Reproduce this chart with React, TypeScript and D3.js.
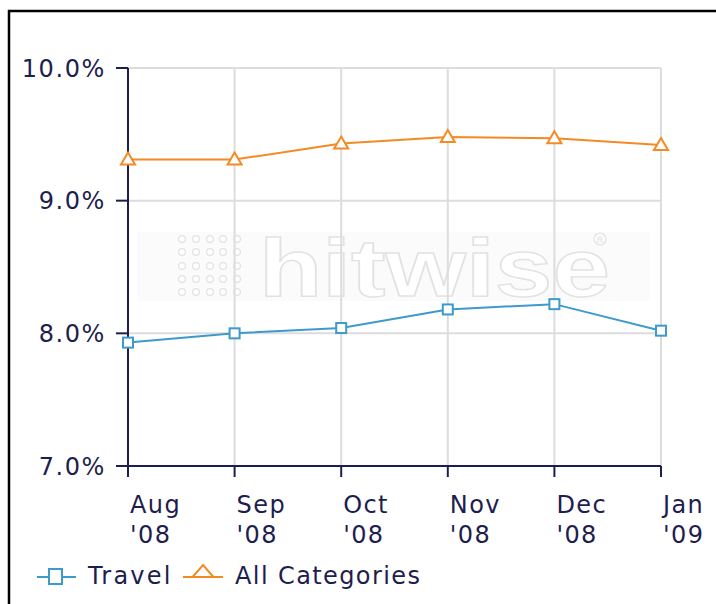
import React from "react";
import * as d3 from "d3";

// values (percent of visits)
const months = ["Aug", "Sep", "Oct", "Nov", "Dec", "Jan"];
const years = ["'08", "'08", "'08", "'08", "'08", "'09"];
const travel = [7.93, 8.0, 8.04, 8.18, 8.22, 8.02];
const allCategories = [9.31, 9.31, 9.43, 9.48, 9.47, 9.42];
const yTicks = [7, 8, 9, 10];

const W = 716,
  H = 604;
const margin = { top: 68, right: 55, bottom: 138, left: 128 };
const AXIS = "#1e1e4e";
const GRID = "#dddddd";
const BLUE = "#3d9bcc";
const ORANGE = "#f58a25";
const FONT = "'DejaVu Sans', Verdana, sans-serif";

export default function App() {
  const x = d3
    .scalePoint<string>()
    .domain(months)
    .range([margin.left, W - margin.right]);
  const y = d3
    .scaleLinear()
    .domain([7, 10])
    .range([H - margin.bottom, margin.top]);

  const line = d3
    .line<number>()
    .x((_, i) => x(months[i]) as number)
    .y((d) => y(d));

  const x0 = margin.left,
    x1 = W - margin.right;
  const y0 = y(7),
    y1 = y(10);

  const tri = (cx: number, cy: number, w: number, h: number) =>
    `M${cx},${cy - h / 2}L${cx + w / 2},${cy + h / 2}L${cx - w / 2},${cy + h / 2}Z`;

  // watermark dot grid
  const dotCols = [182, 196, 210, 223, 237];
  const dotRows = [239, 252, 266, 279, 292];

  return (
    <svg
      width={W}
      height={H}
      style={{ position: "absolute", left: 0, top: 0, background: "#fff" }}
      fontFamily={FONT}
    >
      <rect x={9} y={11} width={W} height={H} fill="#fff" stroke="#000" strokeWidth={2.5} />

      {/* watermark */}
      <g>
        <rect x={137} y={232} width={513} height={69} fill="#fbfbfb" />
        {dotRows.map((cy) =>
          dotCols.map((cx) => (
            <circle key={cx + "-" + cy} cx={cx} cy={cy} r={3.4} fill="#fff" stroke="#e2e2e2" strokeWidth={1.2} />
          ))
        )}
        <text
          x={259}
          y={296}
          fontFamily="'Liberation Sans', Arial, sans-serif"
          fontWeight="bold"
          fontSize={82}
          textLength={351}
          lengthAdjust="spacingAndGlyphs"
          fill="#fff"
          stroke="#e2e2e2"
          strokeWidth={1.4}
        >
          hitwise
        </text>
        <circle cx={600} cy={239} r={6} fill="none" stroke="#e2e2e2" strokeWidth={1.2} />
        <text x={600} y={243} fontSize={9} textAnchor="middle" fill="#e2e2e2" fontFamily="'Liberation Sans', Arial, sans-serif">
          R
        </text>
      </g>

      {/* grid */}
      {months.map((m) => (
        <line key={m} x1={x(m)} x2={x(m)} y1={y1} y2={y0} stroke={GRID} strokeWidth={2} />
      ))}
      {yTicks
        .filter((t) => t > 7)
        .map((t) => (
          <line key={t} x1={x0} x2={x1} y1={y(t)} y2={y(t)} stroke={GRID} strokeWidth={2} />
        ))}

      {/* axes */}
      <line x1={x0} x2={x0} y1={y1} y2={y0} stroke={AXIS} strokeWidth={2} />
      <line x1={x0} x2={x1} y1={y0} y2={y0} stroke={AXIS} strokeWidth={2} />
      {yTicks.map((t) => (
        <g key={t}>
          <line x1={x0 - 12} x2={x0} y1={y(t)} y2={y(t)} stroke={AXIS} strokeWidth={2} />
          <text
            x={106}
            y={y(t) + 8.5}
            textAnchor="end"
            fontSize={24}
            letterSpacing={1.6}
            fill={AXIS}
          >
            {t.toFixed(1) + "%"}
          </text>
        </g>
      ))}
      {months.map((m, i) => (
        <g key={m}>
          <line x1={x(m)} x2={x(m)} y1={y0} y2={y0 + 11} stroke={AXIS} strokeWidth={2} />
          <text x={(x(m) as number) + 2} y={513} fontSize={24} letterSpacing={1.4} fill={AXIS}>
            {m}
          </text>
          <text x={(x(m) as number) + 2} y={543} fontSize={24} letterSpacing={1.4} fill={AXIS}>
            {years[i]}
          </text>
        </g>
      ))}

      {/* series */}
      <path d={line(allCategories) || ""} fill="none" stroke={ORANGE} strokeWidth={2} />
      {allCategories.map((v, i) => (
        <path
          key={i}
          d={tri(x(months[i]) as number, y(v) - 1, 14, 12)}
          fill="#fff"
          stroke={ORANGE}
          strokeWidth={2}
        />
      ))}
      <path d={line(travel) || ""} fill="none" stroke={BLUE} strokeWidth={2} />
      {travel.map((v, i) => (
        <rect
          key={i}
          x={(x(months[i]) as number) - 5}
          y={y(v) - 5}
          width={10}
          height={10}
          fill="#fff"
          stroke={BLUE}
          strokeWidth={2}
        />
      ))}

      {/* legend */}
      <line x1={37} x2={76} y1={577} y2={577} stroke={BLUE} strokeWidth={2} />
      <rect x={49} y={569} width={13} height={15} fill="#fff" stroke={BLUE} strokeWidth={2} />
      <text x={88} y={584} fontSize={24} letterSpacing={2.2} fill={AXIS}>
        Travel
      </text>
      <line x1={183} x2={223} y1={577} y2={577} stroke={ORANGE} strokeWidth={2} />
      <path d={tri(203, 571, 21, 12)} fill="#fff" stroke={ORANGE} strokeWidth={2} />
      <text x={235} y={584} fontSize={24} letterSpacing={1.4} fill={AXIS}>
        All Categories
      </text>
    </svg>
  );
}
